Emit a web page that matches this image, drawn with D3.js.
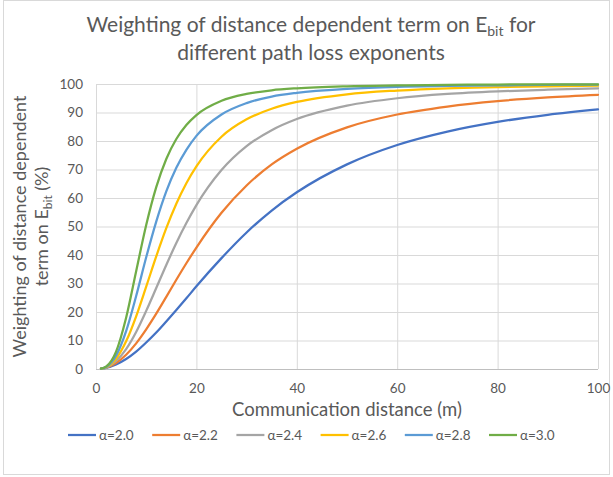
<!DOCTYPE html>
<html>
<head>
<meta charset="utf-8">
<script src="https://cdn.jsdelivr.net/npm/d3@7"></script>
<style>
  body { margin: 0; background: #fff; }
  text { font-family: Lato, "Open Sans", sans-serif; fill: #595959; }
</style>
</head>
<body>
<svg id="chart"></svg>
<script>
const svg = d3.select('#chart')

// size of the page
const width = 613;
const height = 477;

const margin = {top: 84, bottom: 108, left: 96, right: 15}

svg.attr('width', width).attr('height', height)

// data (distance in m, weighting in %)
const distances = [1, 2, 4, 6, 8, 10, 12, 14, 16, 18, 20, 25, 30, 35, 40, 50, 60, 70, 80, 90, 100];
const alphaLabels = ['α=2.0', 'α=2.2', 'α=2.4', 'α=2.6', 'α=2.8', 'α=3.0'];
const colors = ['#4472C4', '#ED7D31', '#A5A5A5', '#FFC000', '#5B9BD5', '#70AD47'];

const a20 = [0.1, 0.4, 1.6, 3.5, 6.1, 9.3, 12.8, 16.7, 20.7, 24.8, 29.0, 38.9, 47.9, 55.6, 62.0, 71.8, 78.6, 83.3, 86.7, 89.2, 91.1];
const a22 = [0.1, 0.5, 2.1, 5.0, 9.0, 13.9, 19.4, 25.3, 31.3, 37.1, 42.6, 54.8, 64.4, 71.8, 77.3, 84.8, 89.3, 92.1, 94.0, 95.3, 96.2];
const a24 = [0.1, 0.5, 2.8, 7.0, 13.0, 20.4, 28.4, 36.5, 44.2, 51.2, 57.5, 69.8, 78.2, 83.8, 87.7, 92.4, 95.0, 96.5, 97.4, 98.0, 98.5];
const a26 = [0.1, 0.6, 3.6, 9.7, 18.5, 28.9, 39.5, 49.4, 58.0, 65.2, 71.1, 81.5, 87.6, 91.3, 93.7, 96.4, 97.7, 98.5, 98.9, 99.2, 99.4];
const a28 = [0.1, 0.7, 4.7, 13.3, 25.6, 39.2, 51.7, 62.3, 70.6, 76.9, 81.8, 89.3, 93.3, 95.6, 96.9, 98.3, 99.0, 99.3, 99.5, 99.7, 99.8];
const a30 = [0.1, 0.8, 6.1, 18.0, 34.3, 50.5, 63.8, 73.7, 80.7, 85.6, 89.1, 94.1, 96.5, 97.8, 98.5, 99.2, 99.5, 99.7, 99.8, 99.9, 99.9];

const xTicks = [0, 20, 40, 60, 80, 100];
const yTicks = [0, 10, 20, 30, 40, 50, 60, 70, 80, 90, 100];

const series = [a20, a22, a24, a26, a28, a30].map((vals, i) => ({
    name: alphaLabels[i],
    color: colors[i],
    points: vals.map((v, j) => ({d: distances[j], v: v}))
}))

// outer chart border
svg.append('rect')
.attr('x', 3.5).attr('y', 0.5)
.attr('width', 606).attr('height', 474)
.attr('fill', 'none')
.attr('stroke', '#d9d9d9')

// scales
const x_scale = d3.scaleLinear().domain([0, 100]).range([margin.left, width - margin.right])
const y_scale = d3.scaleLinear().domain([0, 100]).range([height - margin.bottom, margin.top])

// gridlines
svg.append('g')
.selectAll('line')
.data(yTicks)
.enter()
.append('line')
.attr('x1', x_scale(0)).attr('x2', x_scale(100))
.attr('y1', d => y_scale(d) + 0.5).attr('y2', d => y_scale(d) + 0.5)
.attr('stroke', d => d === 0 ? '#bfbfbf' : '#d9d9d9')

svg.append('g')
.selectAll('line')
.data(xTicks)
.enter()
.append('line')
.attr('x1', d => x_scale(d) + 0.5).attr('x2', d => x_scale(d) + 0.5)
.attr('y1', y_scale(0)).attr('y2', y_scale(100))
.attr('stroke', '#d9d9d9')

// axes (only labels, Excel style)
const x_axis = d3.axisBottom(x_scale).tickValues(xTicks).tickSize(0).tickPadding(14)
const y_axis = d3.axisLeft(y_scale).tickValues(yTicks).tickSize(0).tickPadding(13)

svg.append('g')
.attr('transform', `translate(0,${y_scale(0)})`)
.call(x_axis)
.call(g => g.select('.domain').remove())
.selectAll('text')
.style('font-family', 'Lato, sans-serif')
.style('font-size', '13.5px')
.style('fill', '#595959')

svg.append('g')
.attr('transform', `translate(${x_scale(0)},0)`)
.call(y_axis)
.call(g => g.select('.domain').remove())
.selectAll('text')
.style('font-family', 'Lato, sans-serif')
.style('font-size', '13.5px')
.style('fill', '#595959')

// the curves
const line = d3.line()
.x(d => x_scale(d.d))
.y(d => y_scale(d.v))
.curve(d3.curveMonotoneX)

svg.append('g')
.selectAll('path')
.data(series)
.enter()
.append('path')
.attr('d', d => line(d.points))
.attr('fill', 'none')
.attr('stroke', d => d.color)
.attr('stroke-width', 2.25)
.attr('stroke-linejoin', 'round')
.attr('stroke-linecap', 'round')

// title
const title = svg.append('text')
.attr('text-anchor', 'middle')
.style('font-size', '21px')
title.append('tspan').attr('x', 311).attr('y', 32).text('Weighting of distance dependent term on E')
title.append('tspan').attr('dy', 4).style('font-size', '14px').text('bit')
title.append('tspan').attr('dy', -4).text(' for')
title.append('tspan').attr('x', 311).attr('y', 60).text('different path loss exponents')

// x axis title
svg.append('text')
.attr('x', (x_scale(0) + x_scale(100)) / 2)
.attr('y', 416)
.attr('text-anchor', 'middle')
.style('font-size', '18.5px')
.text('Communication distance (m)')

// y axis title, two lines
const yTitle = svg.append('text')
.attr('transform', `translate(0,${(y_scale(0) + y_scale(100)) / 2}) rotate(-90)`)
.attr('text-anchor', 'middle')
.style('font-size', '18px')
yTitle.append('tspan').attr('x', 0).attr('y', 26).text('Weighting of distance dependent')
const l2 = yTitle.append('tspan').attr('x', 0).attr('y', 48)
l2.append('tspan').text('term on E')
l2.append('tspan').attr('dy', 4).style('font-size', '12px').text('bit')
l2.append('tspan').attr('dy', -4).text(' (%)')

// legend
const legend = svg.append('g')
.selectAll('g')
.data(series)
.enter()
.append('g')
.attr('transform', (d, i) => `translate(${68 + i * 84.2},435)`)

legend.append('line')
.attr('x1', 0).attr('x2', 28)
.attr('y1', 0).attr('y2', 0)
.attr('stroke', d => d.color)
.attr('stroke-width', 2.25)

legend.append('text')
.attr('x', 31).attr('y', 4.5)
.style('font-size', '13.5px')
.text(d => d.name)
</script>
</body>
</html>
